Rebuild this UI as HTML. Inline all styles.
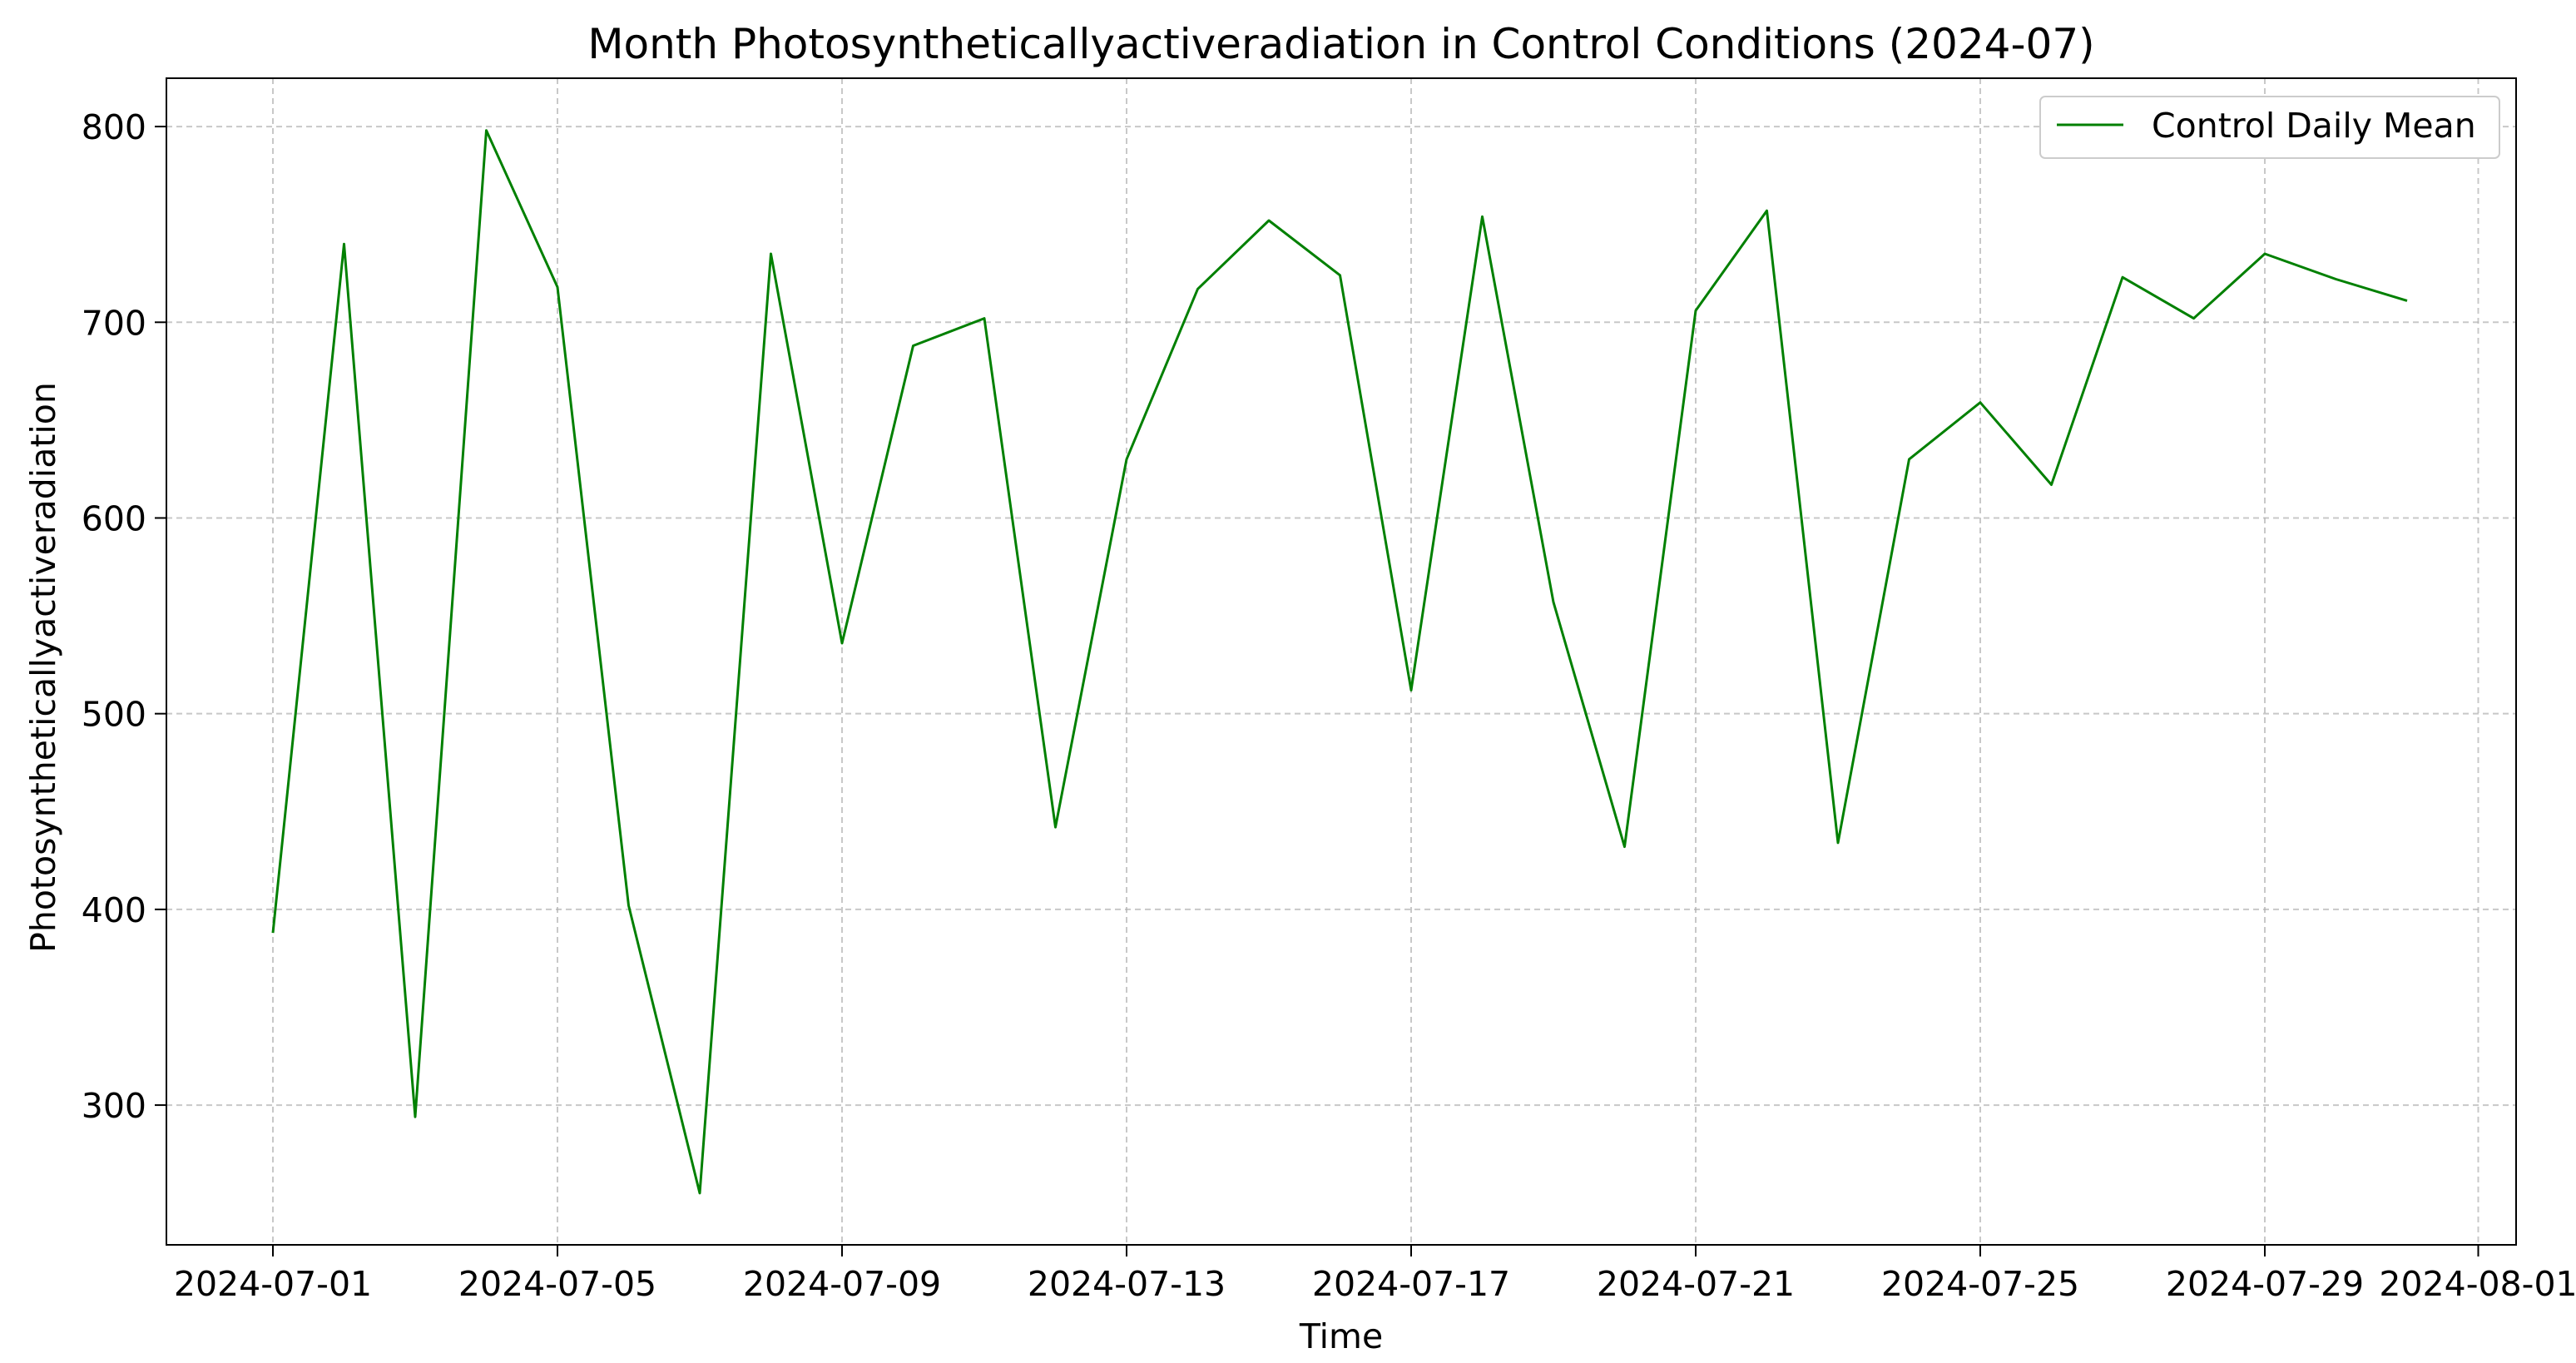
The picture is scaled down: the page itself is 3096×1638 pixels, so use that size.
<!DOCTYPE html>
<html><head><meta charset="utf-8"><style>
html,body{margin:0;padding:0;background:#fff;}
svg{display:block;font-family:"DejaVu Sans","Liberation Sans",sans-serif;}
</style></head><body>
<svg id="chart" width="3096" height="1638" viewBox="0 0 3096 1638">
<rect width="3096" height="1638" fill="#fff"/>
<g id="grid"></g>
<g id="series"></g>
<rect x="200" y="94" width="2824" height="1402" fill="none" stroke="#000" stroke-width="2"/>
<g id="axes"></g>
<text x="1612" y="70" font-size="50" text-anchor="middle">Month Photosyntheticallyactiveradiation in Control Conditions (2024-07)</text>
<text x="1612" y="1620" font-size="41" text-anchor="middle">Time</text>
<text x="0" y="0" font-size="41" text-anchor="middle" transform="translate(66,802) rotate(-90)">Photosyntheticallyactiveradiation</text>
<g>
<rect x="2452" y="116" width="552" height="74" rx="6" fill="#fff" stroke="#ccc" stroke-width="2"/>
<line x1="2472" y1="150" x2="2552" y2="150" stroke="#008000" stroke-width="3"/>
<text x="2586" y="165" font-size="41">Control Daily Mean</text>
</g>
</svg>
<script>
const days = [1,2,3,4,5,6,7,8,9,10,11,12,13,14,15,16,17,18,19,20,21,22,23,24,25,26,27,28,29,30,31];
const values = [388,740,294,798,718,402,255,735,536,688,702,442,630,717,752,724,512,754,557,432,706,757,434,630,659,617,723,702,735,722,711];
const yTicks = [300,400,500,600,700,800];
const xTickDays = [1,5,9,13,17,21,25,29,32];
const xTickLabels = ["2024-07-01","2024-07-05","2024-07-09","2024-07-13","2024-07-17","2024-07-21","2024-07-25","2024-07-29","2024-08-01"];
const NS="http://www.w3.org/2000/svg";
const L=200,R=3024,T=94,B=1496;
const x0=328,dx=85.5;
function xs(d){return x0+(d-1)*dx;}
const ymin=228.6,ymax=824.7;
function ys(v){return B-(v-ymin)/(ymax-ymin)*(B-T);}
function mk(tag,attrs,parent){const e=document.createElementNS(NS,tag);for(const k in attrs)e.setAttribute(k,attrs[k]);parent.appendChild(e);return e;}
const grid=document.getElementById('grid'),axes=document.getElementById('axes'),series=document.getElementById('series');
yTicks.forEach(v=>{
  const y=ys(v);
  const g=mk('line',{x1:L,x2:R,y1:y,y2:y,stroke:'#b0b0b0','stroke-width':2,'stroke-dasharray':'7,5','stroke-opacity':0.7},grid);
  
  
  const t=mk('line',{x1:L-14,x2:L,y1:y,y2:y,stroke:'#000','stroke-width':2},axes);
  
  
  const lb=mk('text',{x:L-24,y:y+15,'font-size':41,'text-anchor':'end'},axes);
  lb.textContent=v;
  
  
});
xTickDays.forEach((d,i)=>{
  const x=xs(d);
  const g=mk('line',{x1:x,x2:x,y1:T,y2:B,stroke:'#b0b0b0','stroke-width':2,'stroke-dasharray':'7,5','stroke-opacity':0.7},grid);
  
  
  const t=mk('line',{x1:x,x2:x,y1:B,y2:B+14,stroke:'#000','stroke-width':2},axes);
  
  
  const lb=mk('text',{x:x,y:B+61,'font-size':41,'text-anchor':'middle'},axes);
  lb.textContent=xTickLabels[i];
  
  
});
const pts=days.map((d,i)=>xs(d).toFixed(1)+','+ys(values[i]).toFixed(1)).join(' ');
const pl=mk('polyline',{points:pts,fill:'none',stroke:'#008000','stroke-width':3,'stroke-linejoin':'round'},series);


</script>
</body></html>
